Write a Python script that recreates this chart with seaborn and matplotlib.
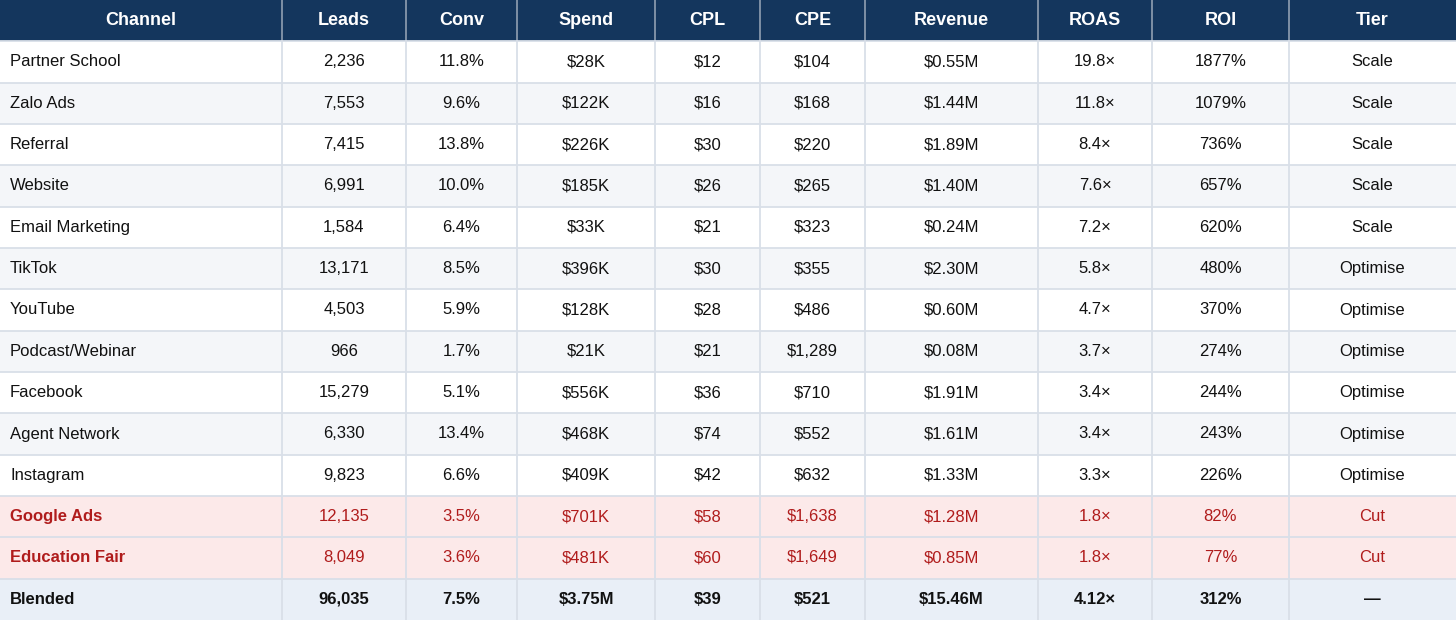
import numpy as np
import pandas as pd
import matplotlib.pyplot as plt
import seaborn as sns
from matplotlib.colors import ListedColormap

sns.set_theme(style="white")
plt.rcParams['font.family'] = ['Liberation Sans', 'DejaVu Sans']

# Dados da tabela
columns = ["Channel", "Leads", "Conv", "Spend", "CPL", "CPE", "Revenue", "ROAS", "ROI", "Tier"]
channels = ["Partner School", "Zalo Ads", "Referral", "Website", "Email Marketing", "TikTok",
            "YouTube", "Podcast/Webinar", "Facebook", "Agent Network", "Instagram",
            "Google Ads", "Education Fair", "Blended"]
leads = ["2,236", "7,553", "7,415", "6,991", "1,584", "13,171", "4,503", "966", "15,279",
         "6,330", "9,823", "12,135", "8,049", "96,035"]
conv = ["11.8%", "9.6%", "13.8%", "10.0%", "6.4%", "8.5%", "5.9%", "1.7%", "5.1%",
        "13.4%", "6.6%", "3.5%", "3.6%", "7.5%"]
spend = ["$28K", "$122K", "$226K", "$185K", "$33K", "$396K", "$128K", "$21K", "$556K",
         "$468K", "$409K", "$701K", "$481K", "$3.75M"]
cpl = ["$12", "$16", "$30", "$26", "$21", "$30", "$28", "$21", "$36", "$74", "$42",
       "$58", "$60", "$39"]
cpe = ["$104", "$168", "$220", "$265", "$323", "$355", "$486", "$1,289", "$710", "$552",
       "$632", "$1,638", "$1,649", "$521"]
revenue = ["$0.55M", "$1.44M", "$1.89M", "$1.40M", "$0.24M", "$2.30M", "$0.60M", "$0.08M",
           "$1.91M", "$1.61M", "$1.33M", "$1.28M", "$0.85M", "$15.46M"]
roas = ["19.8×", "11.8×", "8.4×", "7.6×", "7.2×", "5.8×", "4.7×", "3.7×", "3.4×", "3.4×",
        "3.3×", "1.8×", "1.8×", "4.12×"]
roi = ["1877%", "1079%", "736%", "657%", "620%", "480%", "370%", "274%", "244%", "243%",
       "226%", "82%", "77%", "312%"]
tier = ["Scale", "Scale", "Scale", "Scale", "Scale", "Optimise", "Optimise", "Optimise",
        "Optimise", "Optimise", "Optimise", "Cut", "Cut", "—"]

df = pd.DataFrame({"Channel": channels, "Leads": leads, "Conv": conv, "Spend": spend,
                   "CPL": cpl, "CPE": cpe, "Revenue": revenue, "ROAS": roas, "ROI": roi,
                   "Tier": tier})

# Layout
col_widths = [282, 124, 111, 138, 105, 105, 173, 114, 137, 167]
edges = np.concatenate([[0], np.cumsum(col_widths)])
n_rows = len(df) + 1

# Tipo de linha: 0 header, 1 branco, 2 cinza, 3 corte, 4 blended
row_kind = [0]
for i, t in enumerate(df["Tier"]):
    if t == "Cut":
        row_kind.append(3)
    elif df["Channel"][i] == "Blended":
        row_kind.append(4)
    else:
        row_kind.append(1 if i % 2 == 0 else 2)

cmap = ListedColormap(["#14365D", "#FFFFFF", "#F4F6F9", "#FCE9E9", "#E9EFF7"])
grid = np.repeat(np.array(row_kind)[:, None], edges[-1], axis=1)

fig = plt.figure(figsize=(14.56, 6.2), dpi=100)
ax = fig.add_axes([0, 0, 1, 1])
sns.heatmap(grid, cmap=cmap, vmin=-0.5, vmax=4.5, cbar=False, ax=ax,
            xticklabels=False, yticklabels=False)

# Linhas da grade
for x in edges[1:-1]:
    ax.plot([x, x], [0, 1], color="#8797AB", lw=1.3)
    ax.plot([x, x], [1, n_rows], color="#D9DFE8", lw=1.3)
for r in range(1, n_rows):
    ax.plot([0, edges[-1]], [r, r], color="#D9DFE8", lw=1.3)

# Cabeçalho
for j, c in enumerate(columns):
    xc = (edges[j] + edges[j + 1]) / 2
    ax.text(xc, 0.5, c, ha="center", va="center", color="white",
            fontsize=13, fontweight="bold")

# Corpo
for i in range(len(df)):
    y = i + 1.5
    kind = row_kind[i + 1]
    color = "#B01C1C" if kind == 3 else "#111111"
    for j, c in enumerate(columns):
        val = df[c][i]
        if j == 0:
            weight = "bold" if kind in (3, 4) else "normal"
            ax.text(10, y, val, ha="left", va="center", color=color,
                    fontsize=12, fontweight=weight)
        else:
            weight = "bold" if kind == 4 else "normal"
            xc = (edges[j] + edges[j + 1]) / 2
            ax.text(xc, y, val, ha="center", va="center", color=color,
                    fontsize=12, fontweight=weight)

ax.set_xlim(0, edges[-1])
ax.set_ylim(n_rows, 0)
ax.axis("off")

fig.savefig("out.png", dpi=100)
